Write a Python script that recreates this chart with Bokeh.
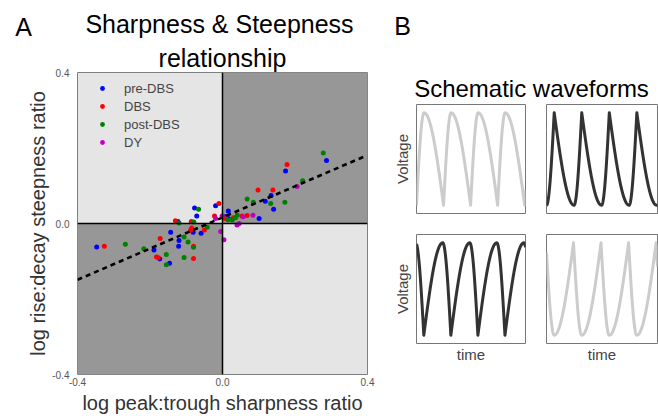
import numpy as np
from bokeh.plotting import figure
from bokeh.models import (Range1d, FixedTicker, NumeralTickFormatter, Span, Title,
                          Legend, LegendItem)
from bokeh.layouts import row, column
from bokeh.embed import file_html
from bokeh.resources import INLINE
from bokeh.core.properties import value

FONT = "Liberation Sans"

# ---------------- data (panel A) ----------------
pre_x = [0.287, 0.174, 0.134, 0.118, 0.141, 0.101, 0.016, 0.007, 0.016, -0.019, -0.077,
         -0.071, -0.123, -0.347, -0.189, -0.143, -0.173, -0.146, -0.120, -0.121, -0.081, -0.059]
pre_y = [0.167, 0.139, 0.074, 0.059, 0.038, 0.013, 0.033, 0.018, 0.013, 0.047, 0.041,
         0.020, 0.005, -0.062, -0.070, -0.023, -0.094, -0.105, -0.045, -0.060, -0.023, -0.026]

dbs_x = [0.178, 0.098, 0.139, 0.068, 0.054, 0.008, 0.030, -0.010, -0.022, -0.326, -0.172,
         -0.182, -0.177, -0.080, -0.080, -0.085, -0.088, -0.050, -0.130, -0.086]
dbs_y = [0.156, 0.089, 0.089, 0.021, 0.020, 0.013, 0.015, 0.053, 0.020, -0.060, -0.040,
         -0.089, -0.091, -0.093, -0.060, -0.012, -0.018, -0.017, 0.007, 0.005]

post_x = [0.278, 0.221, 0.133, 0.172, 0.068, 0.085, 0.041, 0.027, 0.015, 0.036, -0.066,
          -0.268, -0.217, -0.155, -0.155, -0.106, -0.095, -0.106, -0.080, -0.042, -0.120, -0.079]
post_y = [0.187, 0.113, 0.053, 0.056, 0.065, 0.056, 0.022, 0.009, 0.010, 0.015, 0.038,
          -0.055, -0.067, -0.082, -0.109, -0.036, -0.049, -0.090, -0.063, -0.010, 0.001, 0.004]

dy_x = [0.206, 0.084, 0.057, -0.019, -0.001, 0.040, 0.046, -0.005, 0.004]
dy_y = [0.098, 0.022, 0.018, 0.013, 0.020, -0.004, 0.000, -0.021, -0.043]

fit_x = [-0.40, 0.39]
fit_y = [-0.149, 0.177]

axis_lo, axis_hi = -0.4, 0.4
tick_vals = [-0.4, 0.0, 0.4]
series_names = ["pre-DBS", "DBS", "post-DBS", "DY"]
series_colors = ["#0000ff", "#ff0000", "#008000", "#bf00bf"]

# ---------------- schematic waveform parameters (panel B) ----------------
wave_rise = [0.28, 0.28, 0.70, 0.70]          # fraction of cycle rising
wave_sharp = ["trough", "peak", "trough", "peak"]
wave_trough_at = [0.0, 0.0, 0.27, 0.28]        # phase of first trough (cycles)
wave_colors = ["#cccccc", "#333333", "#333333", "#cccccc"]
cycles_shown = 4.03

LIGHT = "#e5e5e5"
DARK = "#979797"


def header(width, height):
    h = figure(width=width, height=height, x_range=Range1d(0, width),
               y_range=Range1d(height, 0), output_backend="svg", toolbar_location=None,
               min_border=0, x_axis_location=None, y_axis_location=None)
    h.outline_line_color = None
    h.xgrid.visible = False
    h.ygrid.visible = False
    return h


def put_text(fig, xs, ys, texts, size, align="center"):
    fig.text(x=xs, y=ys, text=texts, text_font=value(FONT), text_font_size=value(size),
             text_align=align, text_baseline="middle", text_color="black")


# ---------------- panel A ----------------
headA = header(380, 41)
put_text(headA, [23], [26], ["A"], "25px")
put_text(headA, [219], [23], ["Sharpness & Steepness"], "25px")

pA = figure(width=380, height=375, x_range=Range1d(axis_lo, axis_hi),
            y_range=Range1d(axis_lo, axis_hi), output_backend="svg",
            toolbar_location=None, min_border_left=77, min_border_right=13,
            min_border_top=29, min_border_bottom=39)
pA.title = Title(text="relationship", align="center", text_font=FONT,
                 text_font_size="25px", text_font_style="normal", standoff=1,
                 text_color="black")
pA.background_fill_color = LIGHT
pA.border_fill_color = "white"
pA.outline_line_color = "#7f7f7f"
pA.outline_line_width = 1
pA.xgrid.visible = False
pA.ygrid.visible = False

pA.quad(left=[axis_lo, 0], right=[0, axis_hi], bottom=[axis_lo, 0], top=[0, axis_hi],
        fill_color=DARK, line_color=None)

pA.add_layout(Span(location=0, dimension="height", line_color="black", line_width=1.5))
pA.add_layout(Span(location=0, dimension="width", line_color="black", line_width=1.5))

renderers = []
for xs, ys, c in zip([pre_x, dbs_x, post_x, dy_x], [pre_y, dbs_y, post_y, dy_y], series_colors):
    r = pA.scatter(xs, ys, size=5, fill_color=c, line_color=None)
    renderers.append(r)

pA.line(fit_x, fit_y, line_color="black", line_width=2.6, line_dash="5 4")

for ax in (pA.xaxis, pA.yaxis):
    ax.ticker = FixedTicker(ticks=tick_vals)
    ax.formatter = NumeralTickFormatter(format="0.0")
    ax.major_tick_out = 0
    ax.major_tick_in = 0
    ax.minor_tick_line_color = None
    ax.major_tick_line_color = None
    ax.axis_line_color = None
    ax.major_label_text_font_size = "10px"
    ax.major_label_text_color = "#555555"
    ax.major_label_text_font = FONT
    ax.axis_label_text_font = FONT
    ax.axis_label_text_font_size = "20px"
    ax.axis_label_text_font_style = "normal"
    ax.axis_label_text_color = "#333333"
pA.xaxis.major_label_standoff = 3
pA.yaxis.major_label_standoff = 8
pA.xaxis.axis_label = "log peak:trough sharpness ratio"
pA.yaxis.axis_label = "log rise:decay steepness ratio"
pA.xaxis.axis_label_standoff = 3
pA.yaxis.axis_label_standoff = 0

legend = Legend(items=[LegendItem(label=n, renderers=[r]) for n, r in zip(series_names, renderers)],
                location="top_left", margin=8, padding=8, glyph_width=34, glyph_height=12,
                label_height=16, label_standoff=5, spacing=2, background_fill_alpha=0,
                border_line_color=None, label_text_font_size="13px",
                label_text_color="#444444", label_text_font=FONT)
pA.add_layout(legend)

# wrap header in its own row so that the column does not align its frame with pA's
colA = column(row(headA), row(pA))

# ---------------- panel B ----------------
headB = header(278, 103)
put_text(headB, [22], [25], ["B"], "25px")
put_text(headB, [151], [88], ["Schematic waveforms"], "24px")


def waveform(rise, sharp, t0, t):
    ph = np.mod(t - t0, 1.0)
    up = ph < rise
    u = np.where(up, ph / rise, (ph - rise) / (1 - rise))
    if sharp == "trough":
        return np.where(up, np.sin(np.pi / 2 * u), np.cos(np.pi / 2 * u))
    return np.where(up, 1 - np.cos(np.pi / 2 * u), 1 - np.sin(np.pi / 2 * u))


def wave_fig(i, width, height, mbl, mbr, mbt, mbb, ylabel, xlabel):
    f = figure(width=width, height=height, x_range=Range1d(0, cycles_shown),
               y_range=Range1d(-0.09, 1.09), output_backend="svg", toolbar_location=None,
               min_border_left=mbl, min_border_right=mbr, min_border_top=mbt,
               min_border_bottom=mbb)
    f.outline_line_color = "#777777"
    f.outline_line_width = 1
    f.xgrid.visible = False
    f.ygrid.visible = False
    corners = np.concatenate([np.arange(-1, 6) + wave_trough_at[i],
                              np.arange(-1, 6) + wave_trough_at[i] + wave_rise[i]])
    t = np.union1d(np.linspace(0, cycles_shown, 700),
                   corners[(corners >= 0) & (corners <= cycles_shown)])
    y = waveform(wave_rise[i], wave_sharp[i], wave_trough_at[i], t)
    f.line(t, y, line_color=wave_colors[i], line_width=3, line_join="round")
    for ax, text, standoff in ((f.yaxis, ylabel, 6), (f.xaxis, xlabel, 2)):
        if text is None:
            ax.visible = False
            continue
        ax.ticker = FixedTicker(ticks=[])
        ax.major_label_text_font_size = "0px"
        ax.major_label_standoff = 0
        ax.major_tick_line_color = None
        ax.minor_tick_line_color = None
        ax.major_tick_out = 0
        ax.axis_line_color = None
        ax.axis_label = text
        ax.axis_label_text_font = FONT
        ax.axis_label_text_font_size = "15px"
        ax.axis_label_text_font_style = "normal"
        ax.axis_label_text_color = "#444444"
        ax.axis_label_standoff = standoff
    return f


f1 = wave_fig(0, 155, 119, 36, 10, 1, 9, "Voltage", None)
f2 = wave_fig(1, 123, 119, 11, 1, 1, 9, None, None)
f3 = wave_fig(2, 155, 148, 36, 10, 12, 27, "Voltage", "time")
f4 = wave_fig(3, 123, 148, 11, 1, 12, 27, None, "time")

colB = column(headB, row(f1, f2), row(f3, f4))
layout = row(colA, colB)

open("out.html", "w").write(file_html(layout, INLINE))
